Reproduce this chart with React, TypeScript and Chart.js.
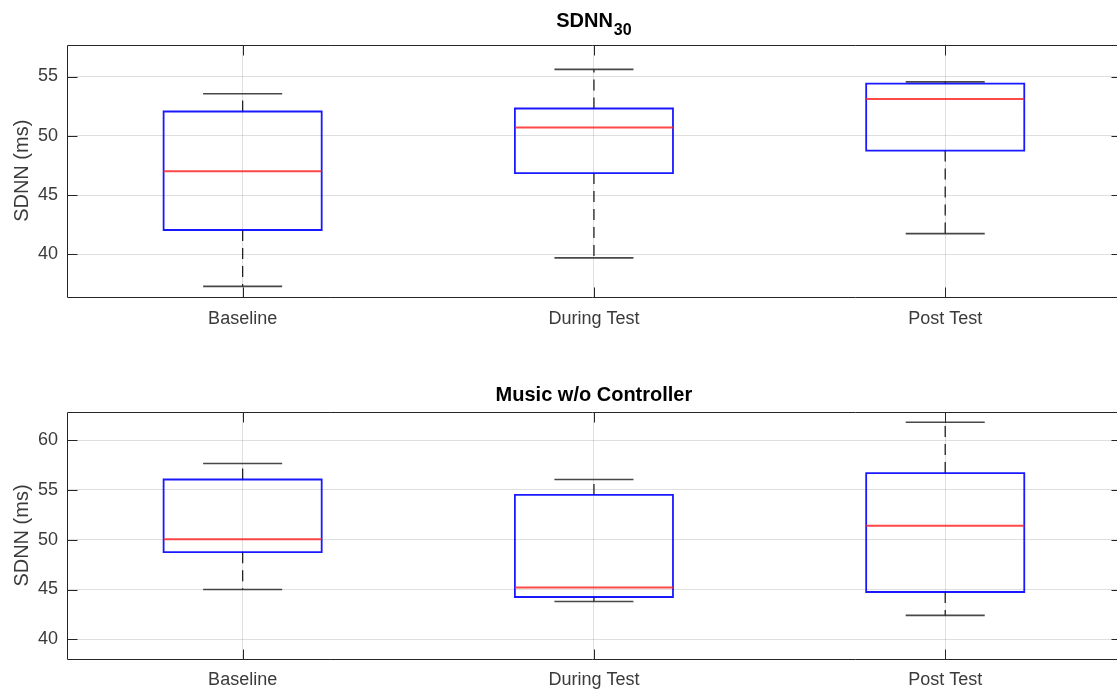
import React, { useEffect, useRef } from "react";
import { Chart, registerables } from "chart.js";

Chart.register(...registerables);

const categories = ["Baseline", "During Test", "Post Test"];

// Panel 1: SDNN30
const p1Lower = [37.3, 39.7, 41.75];
const p1Q1 = [42.05, 46.85, 48.75];
const p1Median = [47.0, 50.7, 53.1];
const p1Q3 = [52.05, 52.3, 54.4];
const p1Upper = [53.55, 55.6, 54.55];
const p1YTicks = [40, 45, 50, 55];
const p1YRange = [36.4, 57.7];

// Panel 2: Music w/o Controller
const p2Lower = [45.0, 43.8, 42.4];
const p2Q1 = [48.75, 44.25, 44.75];
const p2Median = [50.05, 45.2, 51.4];
const p2Q3 = [56.05, 54.5, 56.7];
const p2Upper = [57.65, 56.05, 61.8];
const p2YTicks = [40, 45, 50, 55, 60];
const p2YRange = [38.05, 62.8];

const FONT = '"Liberation Sans", Arial, Helvetica, sans-serif';
const BOX_HALF = 0.225;
const CAP_HALF = 0.1125;
const X_MIN = 0.5;
const X_MAX_VISIBLE = 3.489;
const X_MAX_FULL = 3.5;

type P = { x: number; y: number | null };

function buildSets(lo: number[], q1: number[], med: number[], q3: number[], hi: number[]) {
  const box: P[] = [];
  const median: P[] = [];
  const whisk: P[] = [];
  const caps: P[] = [];
  categories.forEach((_, i) => {
    const x = i + 1;
    box.push(
      { x: x - BOX_HALF, y: q1[i] },
      { x: x + BOX_HALF, y: q1[i] },
      { x: x + BOX_HALF, y: q3[i] },
      { x: x - BOX_HALF, y: q3[i] },
      { x: x - BOX_HALF, y: q1[i] },
      { x, y: null }
    );
    median.push({ x: x - BOX_HALF, y: med[i] }, { x: x + BOX_HALF, y: med[i] }, { x, y: null });
    whisk.push({ x, y: q3[i] }, { x, y: hi[i] }, { x, y: null }, { x, y: q1[i] }, { x, y: lo[i] }, { x, y: null });
    caps.push(
      { x: x - CAP_HALF, y: hi[i] },
      { x: x + CAP_HALF, y: hi[i] },
      { x, y: null },
      { x: x - CAP_HALF, y: lo[i] },
      { x: x + CAP_HALF, y: lo[i] },
      { x, y: null }
    );
  });
  const common = { pointRadius: 0, pointHoverRadius: 0, tension: 0, spanGaps: false, fill: false };
  return [
    { ...common, label: "median", data: median, borderColor: "rgba(255,40,40,0.85)", borderWidth: 2, order: 0 },
    { ...common, label: "box", data: box, borderColor: "rgba(0,0,255,0.9)", borderWidth: 1.8, borderJoinStyle: "miter", borderCapStyle: "square", order: 1 },
    { ...common, label: "caps", data: caps, borderColor: "rgba(40,40,40,0.85)", borderWidth: 1.6, order: 2 },
    { ...common, label: "whisk", data: whisk, borderColor: "#222", borderWidth: 1.3, borderDash: [11, 7], order: 3 },
  ];
}

function makeConfig(
  sets: any[],
  yTicks: number[],
  yRange: number[],
  padTop: number,
  xAxisHeight: number,
  title: string,
  titleSub: string,
  titleBaseline: number
) {
  const framePlugin = {
    id: "frame",
    afterDatasetsDraw(chart: any) {
      const { ctx, chartArea, scales } = chart;
      const x = scales.x;
      const y = scales.y;
      const left = Math.round(chartArea.left) + 0.5;
      const top = Math.round(chartArea.top) + 0.5;
      const bottom = Math.round(chartArea.bottom) + 0.5;
      const right = Math.round(x.getPixelForValue(X_MAX_FULL)) + 0.5;
      ctx.save();
      ctx.strokeStyle = "#262626";
      ctx.lineWidth = 1;
      ctx.setLineDash([]);
      ctx.beginPath();
      ctx.rect(left, top, right - left, bottom - top);
      ctx.stroke();
      const TL = 10;
      ctx.beginPath();
      yTicks.forEach((v) => {
        const py = Math.round(y.getPixelForValue(v)) + 0.5;
        ctx.moveTo(left, py);
        ctx.lineTo(left + TL, py);
        ctx.moveTo(right, py);
        ctx.lineTo(right - TL, py);
      });
      categories.forEach((_, i) => {
        const px = Math.round(x.getPixelForValue(i + 1)) + 0.5;
        ctx.moveTo(px, bottom);
        ctx.lineTo(px, bottom - TL);
        ctx.moveTo(px, top);
        ctx.lineTo(px, top + TL);
      });
      ctx.stroke();
      ctx.restore();
    },
    afterDraw(chart: any) {
      const { ctx, chartArea, scales } = chart;
      const x = scales.x;
      const cx = (x.getPixelForValue(X_MIN) + x.getPixelForValue(X_MAX_FULL)) / 2;
      ctx.save();
      ctx.fillStyle = "#000";
      ctx.textBaseline = "alphabetic";
      ctx.textAlign = "left";
      ctx.font = `bold 20px ${FONT}`;
      const w1 = ctx.measureText(title).width;
      ctx.font = `bold 16px ${FONT}`;
      const w2 = titleSub ? ctx.measureText(titleSub).width + 1 : 0;
      const start = cx - (w1 + w2) / 2;
      ctx.font = `bold 20px ${FONT}`;
      ctx.fillText(title, start, titleBaseline);
      if (titleSub) {
        ctx.font = `bold 16px ${FONT}`;
        ctx.fillText(titleSub, start + w1 + 1, titleBaseline + 8);
      }
      // y-axis title
      const midY = (chartArea.top + chartArea.bottom) / 2;
      ctx.translate(22, midY);
      ctx.rotate(-Math.PI / 2);
      ctx.font = `20px ${FONT}`;
      ctx.fillStyle = "#3a3a3a";
      ctx.textAlign = "center";
      ctx.textBaseline = "middle";
      ctx.fillText("SDNN (ms)", 0, 0);
      ctx.restore();
    },
  };

  return {
    type: "line" as const,
    data: { datasets: sets },
    options: {
      animation: false,
      responsive: false,
      events: [],
      layout: { padding: { top: padTop, left: 0, right: 0, bottom: 0 } },
      plugins: { legend: { display: false }, tooltip: { enabled: false }, title: { display: false } },
      scales: {
        x: {
          type: "linear",
          min: X_MIN,
          max: X_MAX_VISIBLE,
          afterBuildTicks: (s: any) => {
            s.ticks = categories.map((_, i) => ({ value: i + 1 }));
          },
          afterFit: (s: any) => {
            s.height = xAxisHeight;
          },
          grid: { color: "rgba(38,38,38,0.15)", lineWidth: 1, drawTicks: false },
          border: { display: false },
          ticks: {
            autoSkip: false,
            maxRotation: 0,
            padding: 11,
            color: "#3a3a3a",
            font: { family: FONT, size: 18 },
            callback: (v: any) => categories[Math.round(v) - 1] ?? "",
          },
        },
        y: {
          type: "linear",
          min: yRange[0],
          max: yRange[1],
          afterBuildTicks: (s: any) => {
            s.ticks = yTicks.map((v) => ({ value: v }));
          },
          afterFit: (s: any) => {
            s.width = 67;
          },
          grid: { color: "rgba(38,38,38,0.15)", lineWidth: 1, drawTicks: false },
          border: { display: false },
          ticks: {
            padding: 9,
            color: "#3a3a3a",
            font: { family: FONT, size: 18 },
            callback: (v: any) => String(v),
          },
        },
      },
    },
    plugins: [framePlugin],
  };
}

export default function App() {
  const ref1 = useRef<HTMLCanvasElement>(null);
  const ref2 = useRef<HTMLCanvasElement>(null);

  useEffect(() => {
    const c1 = new Chart(
      ref1.current as HTMLCanvasElement,
      makeConfig(buildSets(p1Lower, p1Q1, p1Median, p1Q3, p1Upper), p1YTicks, p1YRange, 44.5, 50, "SDNN", "30", 26.7) as any
    );
    const c2 = new Chart(
      ref2.current as HTMLCanvasElement,
      makeConfig(buildSets(p2Lower, p2Q1, p2Median, p2Q3, p2Upper), p2YTicks, p2YRange, 65.3, 35.3, "Music w/o Controller", "", 54) as any
    );
    return () => {
      c1.destroy();
      c2.destroy();
    };
  }, []);

  return (
    <div style={{ position: "fixed", left: 0, top: 0, width: 1117, height: 694, overflow: "hidden", background: "#fff" }}>
      <canvas ref={ref1} width={1117} height={347} style={{ position: "absolute", left: 0, top: 0, width: 1117, height: 347 }} />
      <canvas ref={ref2} width={1117} height={347} style={{ position: "absolute", left: 0, top: 347, width: 1117, height: 347 }} />
    </div>
  );
}
